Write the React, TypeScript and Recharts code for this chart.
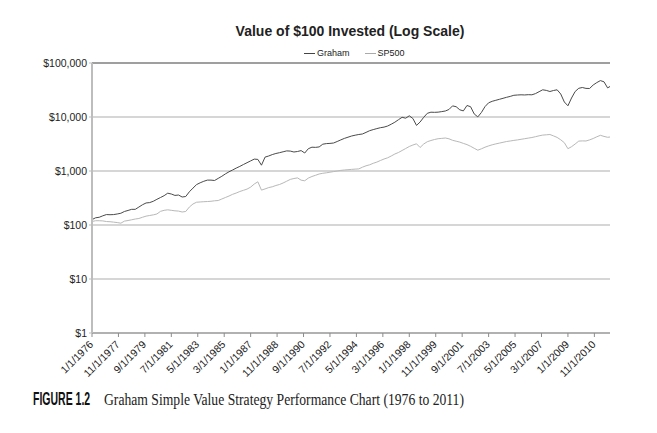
import { LineChart, Line, XAxis, YAxis, CartesianGrid, Legend, ReferenceLine } from 'recharts';

// quarterly samples, plus the last month shown
const periods = [
  '1976-01', '1976-04', '1976-07', '1976-10', '1977-01', '1977-04', '1977-07', '1977-10',
  '1978-01', '1978-04', '1978-07', '1978-10', '1979-01', '1979-04', '1979-07', '1979-10',
  '1980-01', '1980-04', '1980-07', '1980-10', '1981-01', '1981-04', '1981-07', '1981-10',
  '1982-01', '1982-04', '1982-07', '1982-10', '1983-01', '1983-04', '1983-07', '1983-10',
  '1984-01', '1984-04', '1984-07', '1984-10', '1985-01', '1985-04', '1985-07', '1985-10',
  '1986-01', '1986-04', '1986-07', '1986-10', '1987-01', '1987-04', '1987-07', '1987-10',
  '1988-01', '1988-04', '1988-07', '1988-10', '1989-01', '1989-04', '1989-07', '1989-10',
  '1990-01', '1990-04', '1990-07', '1990-10', '1991-01', '1991-04', '1991-07', '1991-10',
  '1992-01', '1992-04', '1992-07', '1992-10', '1993-01', '1993-04', '1993-07', '1993-10',
  '1994-01', '1994-04', '1994-07', '1994-10', '1995-01', '1995-04', '1995-07', '1995-10',
  '1996-01', '1996-04', '1996-07', '1996-10', '1997-01', '1997-04', '1997-07', '1997-10',
  '1998-01', '1998-04', '1998-07', '1998-10', '1999-01', '1999-04', '1999-07', '1999-10',
  '2000-01', '2000-04', '2000-07', '2000-10', '2001-01', '2001-04', '2001-07', '2001-10',
  '2002-01', '2002-04', '2002-07', '2002-10', '2003-01', '2003-04', '2003-07', '2003-10',
  '2004-01', '2004-04', '2004-07', '2004-10', '2005-01', '2005-04', '2005-07', '2005-10',
  '2006-01', '2006-04', '2006-07', '2006-10', '2007-01', '2007-04', '2007-07', '2007-10',
  '2008-01', '2008-04', '2008-07', '2008-10', '2009-01', '2009-04', '2009-07', '2009-10',
  '2010-01', '2010-04', '2010-07', '2010-10', '2011-01', '2011-04', '2011-07', '2011-10',
  '2011-12',
];

const graham = [
  126, 136, 139, 148, 156, 155, 156, 160,
  165, 178, 186, 195, 195, 215, 237, 256,
  260, 275, 299, 323, 349, 388, 375, 353,
  359, 330, 337, 412, 482, 560, 605, 645,
  678, 678, 667, 730, 798, 884, 967, 1044,
  1132, 1217, 1319, 1425, 1538, 1661, 1640, 1281,
  1809, 1896, 2013, 2110, 2183, 2268, 2357, 2337,
  2248, 2297, 2387, 2154, 2588, 2759, 2740, 2790,
  3136, 3217, 3245, 3300, 3518, 3766, 4015, 4226,
  4447, 4603, 4742, 4844, 5185, 5576, 5844, 6099,
  6338, 6502, 6813, 7356, 8012, 8913, 9872, 9502,
  10520, 9380, 6990, 8080, 9872, 11710, 12270, 12200,
  12300, 12590, 12920, 13770, 16060, 15510, 13600, 12970,
  16330, 15510, 11410, 10040, 12110, 15580, 18320, 19530,
  20390, 21270, 22200, 23170, 24070, 25230, 25550, 25770,
  25600, 25900, 25770, 27130, 29410, 31890, 31090, 29660,
  30960, 31890, 26670, 18960, 16130, 22480, 29660, 34010,
  35180, 33860, 33720, 39130, 43350, 47220, 44870, 34580,
  36710,
];

const sp500 = [
  116, 120, 120, 119, 116, 115, 113, 111,
  108, 118, 121, 125, 129, 132, 139, 146,
  150, 154, 160, 179, 187, 191, 187, 183,
  181, 174, 178, 215, 245, 264, 267, 270,
  272, 275, 281, 284, 303, 323, 344, 370,
  391, 417, 439, 462, 503, 574, 631, 443,
  466, 493, 510, 539, 562, 600, 647, 699,
  726, 745, 676, 659, 739, 791, 833, 880,
  907, 926, 950, 975, 1000, 1026, 1044, 1057,
  1071, 1084, 1094, 1176, 1249, 1302, 1389, 1461,
  1565, 1668, 1756, 1896, 2065, 2201, 2397, 2610,
  2842, 3030, 3189, 2724, 3162, 3488, 3671, 3831,
  3964, 4015, 4084, 3948, 3703, 3564, 3429, 3245,
  3083, 2867, 2633, 2428, 2577, 2759, 2916, 3057,
  3176, 3286, 3400, 3518, 3594, 3687, 3766, 3864,
  3964, 4067, 4172, 4317, 4486, 4622, 4681, 4742,
  4467, 4191, 3783, 3343, 2588, 2818, 3162, 3579,
  3610, 3594, 3766, 3998, 4299, 4583, 4372, 4209,
  4262,
];

const tickLabels = [
  '1/1/1976', '11/1/1977', '9/1/1979', '7/1/1981', '5/1/1983', '3/1/1985', '1/1/1987',
  '11/1/1988', '9/1/1990', '7/1/1992', '5/1/1994', '3/1/1996', '1/1/1998', '11/1/1999',
  '9/1/2001', '7/1/2003', '5/1/2005', '3/1/2007', '1/1/2009', '11/1/2010',
];

const yTicks = [1, 10, 100, 1000, 10000, 100000];

const SANS = '"Liberation Sans", Arial, Helvetica, sans-serif';

// months since Jan 1976
const fromPeriod = (p: string) => {
  const [y, m] = p.split('-').map(Number);
  return (y - 1976) * 12 + m - 1;
};
const fromLabel = (l: string) => {
  const [m, , y] = l.split('/').map(Number);
  return (y - 1976) * 12 + m - 1;
};

const data = periods.map((p, i) => ({ m: fromPeriod(p), graham: graham[i], sp500: sp500[i] }));
const xTicks = tickLabels.map(fromLabel);
const lastMonth = fromPeriod(periods[periods.length - 1]);

const money = (v: number) => '$' + v.toLocaleString('en-US');

function DateTick(props: any) {
  const { x, y, payload } = props;
  const label = tickLabels[xTicks.indexOf(payload.value)];
  return (
    <g transform={`translate(${x + 2},${y + 6})`}>
      <text textAnchor="end" transform="rotate(-45)" fontSize={10.5} fill="#222" fontFamily={SANS}>
        {label}
      </text>
    </g>
  );
}

function LegendItems() {
  const item = (name: string, color: string) => (
    <span style={{ display: 'inline-flex', alignItems: 'center', marginRight: 15 }}>
      <span style={{ display: 'inline-block', width: 11, height: 1.5, background: color, marginRight: 2 }} />
      {name}
    </span>
  );
  return (
    <div style={{ paddingLeft: 304, fontSize: 9, fontFamily: SANS, color: '#222', lineHeight: '10px' }}>
      {item('Graham', '#444')}
      {item('SP500', '#aaa')}
    </div>
  );
}

export default function App() {
  return (
    <div style={{ position: 'absolute', left: 0, top: 0, width: 657, height: 433, background: '#fff' }}>
      <svg width={657} height={433} style={{ position: 'absolute', left: 0, top: 0 }}>
        <text x={350} y={36} textAnchor="middle" fontSize={14} fontWeight="bold" fill="#222" fontFamily={SANS}>
          Value of $100 Invested (Log Scale)
        </text>
        <text
          x={0}
          y={0}
          fontSize={17.5}
          fontWeight="bold"
          fill="#111"
          fontFamily={SANS}
          transform="translate(33,405) scale(0.6,1)"
        >
          FIGURE 1.2
        </text>
        <text
          x={0}
          y={0}
          fontSize={17.5}
          fill="#222"
          fontFamily='"Liberation Serif", "Times New Roman", serif'
          transform="translate(104,405) scale(0.78,1)"
        >
          Graham Simple Value Strategy Performance Chart (1976 to 2011)
        </text>
      </svg>
      <div style={{ position: 'absolute', left: 0, top: 0 }}>
        <LineChart width={657} height={390} data={data} margin={{ top: 63, right: 47, left: 0, bottom: 7 }}>
          <CartesianGrid vertical={false} stroke="#c8c8c8" strokeWidth={1.5} />
          <XAxis
            dataKey="m"
            type="number"
            domain={[0, lastMonth]}
            ticks={xTicks}
            interval={0}
            height={50}
            tick={<DateTick />}
            tickSize={4}
            tickMargin={2}
            axisLine={{ stroke: '#8c8c8c' }}
            tickLine={{ stroke: '#8c8c8c' }}
          />
          <YAxis
            scale="log"
            domain={[1, 100000]}
            ticks={yTicks}
            interval={0}
            allowDataOverflow
            width={92}
            tickFormatter={money}
            tickSize={3}
            tickMargin={2}
            tick={{ fontSize: 10.5, fill: '#222', fontFamily: SANS }}
            axisLine={{ stroke: '#bdbdbd', strokeWidth: 2 }}
            tickLine={{ stroke: '#bdbdbd' }}
          />
          <ReferenceLine y={100000} stroke="#8c8c8c" strokeWidth={1.5} />
          <Legend
            layout="horizontal"
            verticalAlign="middle"
            align="center"
            content={<LegendItems />}
            wrapperStyle={{ top: 46, left: 0, width: 657 }}
          />
          <Line
            type="linear"
            dataKey="sp500"
            name="SP500"
            stroke="#b8b8b8"
            strokeWidth={1}
            dot={false}
            isAnimationActive={false}
          />
          <Line
            type="linear"
            dataKey="graham"
            name="Graham"
            stroke="#4a4a4a"
            strokeWidth={1}
            dot={false}
            isAnimationActive={false}
          />
        </LineChart>
      </div>
    </div>
  );
}
